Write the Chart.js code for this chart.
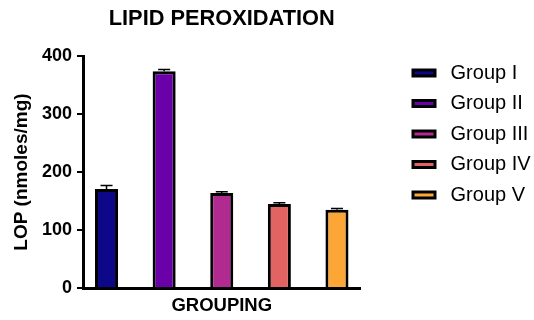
<!DOCTYPE html>
<html>
<head>
<meta charset="utf-8">
<title>Lipid peroxidation</title>
<script src="https://cdn.jsdelivr.net/npm/chart.js@4.4.1/dist/chart.umd.min.js"></script>
<style>
  html, body { margin: 0; padding: 0; background: #fff; }
  canvas { display: block; }
</style>
</head>
<body>
<canvas id="lopChart" width="534" height="320"></canvas>
<script>
// Values (LOP, nmoles/mg, mean and error)
const groups = ['Group I', 'Group II', 'Group III', 'Group IV', 'Group V'];
const lopMeans = [171, 374, 164, 145, 135];
const lopErrors = [6, 3, 2, 2, 2];
const groupColours = ['#0d0887', '#6a00a8', '#b12a90', '#e16462', '#fca636'];
const yTicks = [0, 100, 200, 300, 400];

Chart.defaults.font.family = "'Liberation Sans', Arial, sans-serif";
Chart.defaults.color = '#000';

// Error bars on top of each bar (upper whisker only)
const errorBars = {
    id: 'errorBars',
    afterDatasetsDraw(chart) {
        const ctx = chart.ctx;
        const y = chart.scales.y;
        chart.data.datasets.forEach((ds, i) => {
            const bar = chart.getDatasetMeta(i).data[0];
            const top = y.getPixelForValue(ds.data[0] + lopErrors[i]);
            ctx.save();
            ctx.strokeStyle = '#000';
            ctx.lineWidth = 1.5;
            ctx.beginPath();
            ctx.moveTo(bar.x, bar.y);
            ctx.lineTo(bar.x, top);
            ctx.moveTo(bar.x - 6, top);
            ctx.lineTo(bar.x + 6, top);
            ctx.stroke();
            ctx.restore();
        });
    }
};

// Move the legend a bit away from the plot, like the Prism layout
const legendPlacement = {
    id: 'legendPlacement',
    afterLayout(chart) {
        const lg = chart.legend;
        lg.left = chart.chartArea.right + 42;
        lg.right = chart.width;
        lg.width = lg.right - lg.left;
        lg.top = 52.5;
    }
};

const datasets = groups.map((g, i) => ({
    label: g,
    data: [lopMeans[i]],
    backgroundColor: groupColours[i],
    borderColor: '#000',
    borderWidth: 3,
    categoryPercentage: 1.038,
    barPercentage: 0.4
}));

const lopChart = new Chart(document.getElementById('lopChart'), {
    type: 'bar',
    data: { labels: [''], datasets: datasets },
    options: {
        responsive: false,
        animation: false,
        devicePixelRatio: 1,
        layout: { padding: { left: 0, right: 73.5, top: 0, bottom: 0 } },
        scales: {
            x: {
                ticks: { display: false },
                grid: { display: false },
                border: { display: true, color: '#000', width: 3 },
                title: {
                    display: true,
                    text: 'GROUPING',
                    color: '#000',
                    font: { size: 18.5, weight: 'bold' },
                    padding: { top: 0, bottom: 3 }
                },
                afterFit(scale) { scale.height = 32; }
            },
            y: {
                min: yTicks[0],
                max: yTicks[yTicks.length - 1],
                ticks: {
                    stepSize: yTicks[1] - yTicks[0],
                    color: '#000',
                    padding: 5,
                    font: { size: 18, weight: 'bold' }
                },
                grid: {
                    display: true,
                    drawOnChartArea: false,
                    drawTicks: true,
                    tickLength: 6,
                    color: '#000',
                    lineWidth: 2
                },
                border: { display: true, color: '#000', width: 3 },
                title: {
                    display: true,
                    text: 'LOP (nmoles/mg)',
                    color: '#000',
                    font: { size: 19, weight: 'bold' },
                    padding: { top: 10.5, bottom: 0 }
                },
                afterFit(scale) { scale.width = 83; }
            }
        },
        plugins: {
            title: {
                display: true,
                text: 'LIPID PEROXIDATION',
                fullSize: false,
                color: '#000',
                font: { size: 21.8, weight: 'bold' },
                padding: { top: 6, bottom: 24 }
            },
            legend: {
                position: 'right',
                align: 'start',
                maxWidth: 100,
                labels: {
                    boxWidth: 22,
                    boxHeight: 6,
                    padding: 10.5,
                    color: '#000',
                    font: { size: 20 },
                    generateLabels(chart) {
                        return Chart.defaults.plugins.legend.labels.generateLabels(chart)
                            .map(item => ({ ...item, text: ' ' + item.text }));
                    }
                }
            },
            tooltip: { enabled: false }
        }
    },
    plugins: [errorBars, legendPlacement]
});
</script>
</body>
</html>
